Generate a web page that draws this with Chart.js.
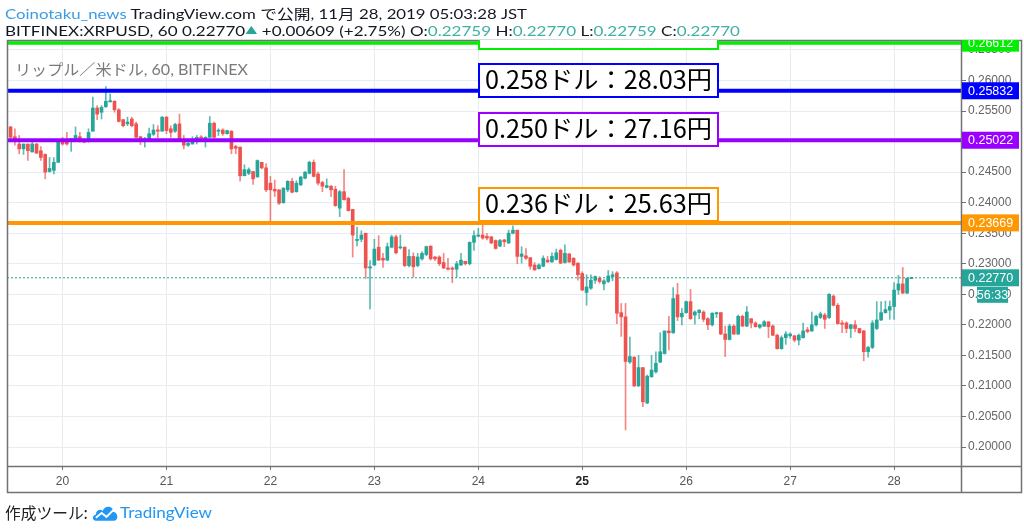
<!DOCTYPE html>
<html><head><meta charset="utf-8">
<script src="https://cdn.jsdelivr.net/npm/chart.js@4.4.1/dist/chart.umd.min.js"></script>
<style>
html,body{margin:0;padding:0;background:#fff;}
#wrap{position:relative;width:1024px;height:530px;overflow:hidden;background:#fff;}
#c{position:absolute;left:0;top:0;}
.line{position:absolute;left:5px;white-space:nowrap;line-height:1;font-family:Lato,"Noto Sans CJK JP",sans-serif;font-size:14px;color:#131722;transform-origin:0 0;}
.t{color:#3fb0a4;}
.tri{font-size:10px;color:#26a69a;position:relative;top:-2px;}
#clip{position:absolute;left:0;top:40px;width:961px;height:426px;overflow:hidden;}
.box{position:absolute;left:478px;width:241px;height:35px;box-sizing:border-box;border:2px solid;background:#fff;}
.box span{position:absolute;left:5px;top:1px;white-space:nowrap;font-family:"Noto Sans CJK JP",sans-serif;font-size:25px;line-height:1;color:#000;transform-origin:0 0;}
.ft{position:absolute;top:504px;white-space:nowrap;font-size:16px;line-height:1;transform-origin:0 0;}
</style></head>
<body><div id="wrap">
<canvas id="c" width="1024" height="530"></canvas>
<div class="line" id="h1" style="top:7px"><span style="color:#3a9be6">Coinotaku_news</span> TradingView.com で公開, 11月 28, 2019 05:03:28 JST</div>
<div class="line" id="h2" style="top:24px">BITFINEX:XRPUSD, 60 0.22770<span class="tri">▲</span> +0.00609 (+2.75%) O:<span class="t">0.22759</span> H:<span class="t">0.22770</span> L:<span class="t">0.22759</span> C:<span class="t">0.22770</span></div>
<div class="line" id="sub" style="left:15px;top:62px;font-size:15px;color:#7a7a7a">リップル／米ドル, 60, BITFINEX</div>
<div id="clip">
 <div class="box" style="top:-10px;height:20px;border-color:#00ee00"></div>
 <div class="box" style="top:23px;border-color:#0000ff"><span id="a1">0.258ドル：28.03円</span></div>
 <div class="box" style="top:72px;border-color:#9900ff"><span id="a2">0.250ドル：27.16円</span></div>
 <div class="box" style="top:147px;border-color:#ff9800"><span id="a3">0.236ドル：25.63円</span></div>
</div>
<span class="ft" id="fj" style="left:5px;font-family:'Noto Sans CJK JP',sans-serif;color:#222">作成ツール:</span>
<svg width="27" height="18" viewBox="0 0 28 18" style="position:absolute;left:92px;top:504px"><path d="M4 17 C0 17 0 11 4 10.5 C4 6 9 4 11 7 C13 1 22 1 22 8 C27 8 28 17 23 17 Z" fill="#2196f3"/><polyline points="4,14 10,9 15,13 22,6" fill="none" stroke="#fff" stroke-width="2"/></svg>
<span class="ft" id="ftv" style="left:120px;font-family:Lato,sans-serif;color:#2196f3">TradingView</span>
</div>
<script>
// ---- data (XRPUSD 1h, Bitfinex) ----
const firstHour = 12; // first candle: 19日 12:00 (hours counted from 19日 00:00)
const opens = [0.2524,0.2508,0.2496,0.2488,0.2496,0.2483,0.2496,0.2485,0.2479,0.2451,0.2453,0.2466,0.2502,0.2499,0.2500,0.2505,0.2508,0.2500,0.2501,0.2517,0.2555,0.2548,0.2557,0.2565,0.2566,0.2552,0.2536,0.2529,0.2537,0.2529,0.2508,0.2502,0.2502,0.2512,0.2519,0.2517,0.2540,0.2521,0.2517,0.2529,0.2502,0.2494,0.2496,0.2503,0.2507,0.2504,0.2507,0.2530,0.2517,0.2519,0.2513,0.2517,0.2492,0.2491,0.2444,0.2448,0.2451,0.2442,0.2466,0.2457,0.2432,0.2422,0.2421,0.2400,0.2421,0.2435,0.2418,0.2429,0.2440,0.2448,0.2466,0.2447,0.2433,0.2425,0.2427,0.2422,0.2391,0.2418,0.2407,0.2389,0.2338,0.2340,0.2350,0.2293,0.2298,0.2327,0.2309,0.2306,0.2327,0.2344,0.2326,0.2327,0.2297,0.2312,0.2297,0.2308,0.2315,0.2329,0.2311,0.2311,0.2302,0.2293,0.2293,0.2291,0.2298,0.2304,0.2300,0.2335,0.2345,0.2347,0.2345,0.2344,0.2338,0.2329,0.2339,0.2334,0.2350,0.2355,0.2312,0.2313,0.2310,0.2298,0.2292,0.2296,0.2306,0.2303,0.2307,0.2322,0.2302,0.2316,0.2309,0.2301,0.2284,0.2253,0.2260,0.2273,0.2276,0.2267,0.2271,0.2279,0.2285,0.2220,0.2213,0.2139,0.2147,0.2100,0.2130,0.2072,0.2115,0.2123,0.2139,0.2153,0.2190,0.2187,0.2249,0.2213,0.2220,0.2238,0.2216,0.2220,0.2221,0.2210,0.2200,0.2218,0.2220,0.2185,0.2176,0.2198,0.2185,0.2214,0.2198,0.2210,0.2203,0.2196,0.2198,0.2205,0.2198,0.2183,0.2161,0.2179,0.2182,0.2182,0.2175,0.2179,0.2192,0.2190,0.2200,0.2212,0.2216,0.2212,0.2247,0.2232,0.2203,0.2203,0.2194,0.2200,0.2194,0.2190,0.2156,0.2163,0.2194,0.2208,0.2220,0.2224,0.2230,0.2257,0.2267,0.2252,0.22759];
const highs = [0.2525,0.2521,0.2510,0.2496,0.2496,0.2499,0.2497,0.2492,0.2480,0.2474,0.2474,0.2503,0.2507,0.2515,0.2505,0.2524,0.2515,0.2501,0.2521,0.2573,0.2559,0.2559,0.2590,0.2578,0.2567,0.2554,0.2536,0.2540,0.2540,0.2532,0.2508,0.2507,0.2522,0.2528,0.2526,0.2541,0.2541,0.2526,0.2530,0.2545,0.2510,0.2499,0.2508,0.2510,0.2510,0.2508,0.2541,0.2532,0.2521,0.2521,0.2519,0.2518,0.2494,0.2491,0.2462,0.2457,0.2451,0.2470,0.2466,0.2464,0.2443,0.2437,0.2421,0.2424,0.2436,0.2440,0.2436,0.2443,0.2451,0.2468,0.2470,0.2450,0.2435,0.2439,0.2428,0.2427,0.2420,0.2454,0.2409,0.2389,0.2360,0.2354,0.2350,0.2305,0.2340,0.2346,0.2317,0.2334,0.2347,0.2347,0.2347,0.2328,0.2323,0.2318,0.2317,0.2320,0.2329,0.2329,0.2312,0.2313,0.2317,0.2309,0.2295,0.2304,0.2317,0.2304,0.2336,0.2354,0.2358,0.2363,0.2350,0.2345,0.2339,0.2340,0.2340,0.2355,0.2362,0.2355,0.2328,0.2325,0.2310,0.2302,0.2300,0.2313,0.2312,0.2318,0.2324,0.2324,0.2331,0.2317,0.2310,0.2302,0.2287,0.2282,0.2282,0.2280,0.2279,0.2274,0.2289,0.2287,0.2287,0.2235,0.2235,0.2180,0.2148,0.2150,0.2130,0.2118,0.2150,0.2156,0.2187,0.2190,0.2214,0.2261,0.2268,0.2227,0.2239,0.2258,0.2223,0.2225,0.2223,0.2212,0.2220,0.2221,0.2220,0.2198,0.2201,0.2200,0.2216,0.2216,0.2230,0.2210,0.2205,0.2201,0.2207,0.2205,0.2200,0.2185,0.2182,0.2189,0.2187,0.2183,0.2185,0.2203,0.2196,0.2221,0.2216,0.2221,0.2219,0.2251,0.2249,0.2235,0.2207,0.2205,0.2201,0.2207,0.2194,0.2191,0.2165,0.2207,0.2238,0.2238,0.2239,0.2239,0.2269,0.2281,0.2294,0.2277,0.22770];
const lows = [0.2506,0.2494,0.2480,0.2479,0.2469,0.2483,0.2481,0.2469,0.2439,0.2450,0.2447,0.2466,0.2494,0.2494,0.2484,0.2504,0.2499,0.2498,0.2499,0.2517,0.2536,0.2537,0.2556,0.2565,0.2548,0.2532,0.2524,0.2526,0.2524,0.2506,0.2495,0.2491,0.2501,0.2510,0.2506,0.2517,0.2513,0.2507,0.2515,0.2502,0.2488,0.2492,0.2496,0.2496,0.2502,0.2491,0.2507,0.2506,0.2510,0.2510,0.2512,0.2480,0.2480,0.2435,0.2444,0.2446,0.2430,0.2442,0.2455,0.2418,0.2369,0.2410,0.2397,0.2399,0.2418,0.2416,0.2417,0.2428,0.2439,0.2447,0.2442,0.2429,0.2418,0.2424,0.2410,0.2394,0.2377,0.2404,0.2386,0.2311,0.2329,0.2336,0.2276,0.2226,0.2297,0.2305,0.2294,0.2305,0.2326,0.2316,0.2324,0.2295,0.2295,0.2278,0.2295,0.2306,0.2313,0.2306,0.2305,0.2297,0.2292,0.2290,0.2269,0.2278,0.2297,0.2298,0.2298,0.2322,0.2344,0.2340,0.2339,0.2333,0.2324,0.2328,0.2328,0.2333,0.2349,0.2300,0.2301,0.2307,0.2291,0.2289,0.2291,0.2295,0.2302,0.2302,0.2306,0.2300,0.2301,0.2302,0.2296,0.2273,0.2256,0.2232,0.2258,0.2268,0.2268,0.2257,0.2269,0.2272,0.2202,0.2181,0.2028,0.2137,0.2099,0.2099,0.2066,0.2071,0.2114,0.2121,0.2138,0.2152,0.2159,0.2186,0.2207,0.2200,0.2219,0.2209,0.2201,0.2210,0.2205,0.2192,0.2198,0.2212,0.2184,0.2148,0.2175,0.2184,0.2184,0.2197,0.2197,0.2195,0.2196,0.2194,0.2197,0.2179,0.2182,0.2160,0.2160,0.2168,0.2178,0.2172,0.2167,0.2178,0.2187,0.2189,0.2198,0.2210,0.2194,0.2210,0.2231,0.2201,0.2187,0.2187,0.2179,0.2189,0.2186,0.2141,0.2147,0.2161,0.2192,0.2207,0.2219,0.2209,0.2209,0.2250,0.2251,0.2251,0.22759];
const closes = [0.2507,0.2502,0.2488,0.2496,0.2485,0.2496,0.2481,0.2474,0.2450,0.2456,0.2466,0.2502,0.2496,0.2496,0.2505,0.2510,0.2502,0.2499,0.2515,0.2555,0.2545,0.2556,0.2566,0.2567,0.2552,0.2533,0.2526,0.2532,0.2526,0.2507,0.2502,0.2504,0.2513,0.2519,0.2517,0.2540,0.2518,0.2515,0.2528,0.2503,0.2494,0.2497,0.2499,0.2507,0.2506,0.2507,0.2530,0.2507,0.2518,0.2513,0.2518,0.2488,0.2489,0.2444,0.2454,0.2454,0.2439,0.2469,0.2457,0.2421,0.2421,0.2419,0.2399,0.2424,0.2435,0.2417,0.2432,0.2442,0.2450,0.2466,0.2443,0.2432,0.2427,0.2428,0.2421,0.2395,0.2418,0.2405,0.2387,0.2347,0.2340,0.2347,0.2293,0.2295,0.2324,0.2306,0.2306,0.2328,0.2344,0.2318,0.2327,0.2297,0.2312,0.2295,0.2311,0.2317,0.2328,0.2308,0.2308,0.2300,0.2293,0.2291,0.2291,0.2300,0.2306,0.2300,0.2335,0.2346,0.2347,0.2342,0.2342,0.2334,0.2325,0.2338,0.2336,0.2350,0.2355,0.2312,0.2316,0.2309,0.2296,0.2290,0.2298,0.2309,0.2303,0.2312,0.2318,0.2301,0.2317,0.2303,0.2298,0.2282,0.2257,0.2262,0.2273,0.2279,0.2271,0.2272,0.2280,0.2282,0.2219,0.2213,0.2140,0.2148,0.2100,0.2130,0.2074,0.2116,0.2126,0.2137,0.2156,0.2190,0.2187,0.2243,0.2213,0.2219,0.2238,0.2210,0.2221,0.2224,0.2209,0.2200,0.2219,0.2220,0.2185,0.2176,0.2198,0.2185,0.2214,0.2198,0.2221,0.2203,0.2197,0.2200,0.2205,0.2197,0.2183,0.2161,0.2179,0.2185,0.2185,0.2175,0.2183,0.2190,0.2189,0.2200,0.2214,0.2218,0.2209,0.2250,0.2232,0.2202,0.2201,0.2194,0.2200,0.2194,0.2187,0.2156,0.2163,0.2203,0.2208,0.2220,0.2225,0.2230,0.2257,0.2267,0.2252,0.2276,0.22770];
const dayLabels = ['20','21','22','23','24','25','26','27','28'];
const dayHours = [24,48,72,96,120,144,168,192,216];
const yTickValues = [0.200,0.205,0.210,0.215,0.220,0.225,0.230,0.235,0.240,0.245,0.250,0.255,0.260,0.265];
const levelValues = [0.26612,0.25832,0.25022,0.23669];
const lastPrice = 0.22770;
const countdown = '56:33';

// ---- styles ----
const UP = '#26a69a', DOWN = '#ef5350';
const UPW = 'rgba(38,166,154,0.75)', DOWNW = 'rgba(239,83,80,0.7)';
const levelColors = ['#00ee00','#0000ff','#9900ff','#ff9800'];
const levelWidths = [3.5,4,4,4];
const xMin = 11.18, xMax = 231.45;
const yMin = 0.19689, yMax = 0.26663;

const hours = opens.map((_, i) => firstHour + i);
const isUp = hours.map((_, i) => closes[i] >= opens[i]);
const datasets = [];
levelValues.forEach((v, k) => datasets.push({
  type:'line', data:[{x:xMin,y:v},{x:xMax,y:v}], borderColor:levelColors[k],
  borderWidth:levelWidths[k], pointRadius:0, order:0
}));
datasets.push({type:'line', data:[{x:xMin,y:lastPrice},{x:xMax,y:lastPrice}], borderColor:'#1f9e91',
  borderWidth:1, borderDash:[2,2], pointRadius:0, order:0});
datasets.push({type:'bar', data:hours.map((h,i)=>({x:h,y:[lows[i],highs[i]]})),
  backgroundColor:isUp.map(u=>u?UPW:DOWNW), barThickness:1, minBarLength:1, grouped:false, order:3});
datasets.push({type:'bar', data:hours.map((h,i)=>({x:h,y:[opens[i],closes[i]]})),
  backgroundColor:isUp.map(u=>u?UP:DOWN), barThickness:3, minBarLength:1, grouped:false, order:2});

const tags = [
  {v:levelValues[0], c:levelColors[0]},{v:levelValues[1], c:levelColors[1]},
  {v:levelValues[2], c:levelColors[2]},{v:levelValues[3], c:levelColors[3]},
  {v:lastPrice, c:UP}
];
const framePlugin = {
  id:'frame',
  afterDraw(chart){
    const ctx = chart.ctx, ys = chart.scales.y, a = chart.chartArea;
    ctx.save();
    ctx.strokeStyle = '#6f7276'; ctx.lineWidth = 1.5;
    ctx.strokeRect(7.5, 40.5, 1014, 452);
    ctx.beginPath(); ctx.moveTo(a.right+0.5, 40); ctx.lineTo(a.right+0.5, 492);
    ctx.moveTo(7, a.bottom+0.5); ctx.lineTo(1022, a.bottom+0.5); ctx.stroke();
    ctx.beginPath(); ctx.rect(a.right, a.top, 1024-a.right, a.bottom-a.top); ctx.clip();
    ctx.font = '12.5px "Liberation Sans", Arial, sans-serif';
    ctx.textBaseline = 'middle';
    tags.forEach(t => {
      const py = ys.getPixelForValue(t.v);
      ctx.fillStyle = t.c; ctx.fillRect(a.right+1, py-8.5, 57, 17);
      ctx.fillStyle = '#fff'; ctx.textAlign='left';
      ctx.fillText(t.v.toFixed(5), a.right+7, py+0.5);
    });
    const pl = ys.getPixelForValue(lastPrice);
    ctx.fillStyle = UP; ctx.fillRect(977, pl+9, 31, 16);
    ctx.fillStyle = '#fff'; ctx.textAlign='center';
    ctx.fillText(countdown, 992.5, pl+17.5);
    ctx.restore();
  }
};

new Chart(document.getElementById('c'), {
  type:'bar',
  data:{datasets},
  options:{
    responsive:false, animation:false, events:[],
    layout:{padding:{left:7, top:40, right:2, bottom:38}},
    plugins:{legend:{display:false}, tooltip:{enabled:false}},
    scales:{
      x:{type:'linear', min:xMin, max:xMax, offset:false,
        afterBuildTicks:s=>{ s.ticks = dayHours.map(v=>({value:v})); },
        afterFit:s=>{ s.height = 26; },
        ticks:{autoSkip:false, maxRotation:0, padding:4,
          callback:v=>dayLabels[dayHours.indexOf(v)],
          color:c=> c.tick && c.tick.value===144 ? '#222' : '#555',
          font:c=>({family:'"Liberation Sans", Arial, sans-serif', size:12, weight: c.tick && c.tick.value===144 ? 'bold':'normal'})},
        grid:{color:'#e6ecf1', tickColor:'#6f7276', tickLength:4, offset:false},
        border:{color:'#6f7276', width:1}
      },
      y:{position:'right', min:yMin, max:yMax,
        afterBuildTicks:s=>{ s.ticks = yTickValues.map(v=>({value:v})); },
        afterFit:s=>{ s.width = 61; },
        ticks:{padding:2, color:'#666', font:{family:'"Liberation Sans", Arial, sans-serif', size:12},
          callback:v=>Number(v).toFixed(5)},
        grid:{color:'#e6ecf1', tickColor:'#6f7276', tickLength:5},
        border:{color:'#6f7276', width:1}
      }
    }
  },
  plugins:[framePlugin]
});

function fit(id, w){ const el=document.getElementById(id); el.style.display='inline-block'; const r=el.getBoundingClientRect().width; el.style.transform='scaleX('+(w/r)+')'; }
fit('h1', 522); fit('h2', 735); fit('sub', 233);
fit('a1', 227); fit('a2', 227); fit('a3', 227);
fit('fj', 83); fit('ftv', 92);
</script>
</body></html>
